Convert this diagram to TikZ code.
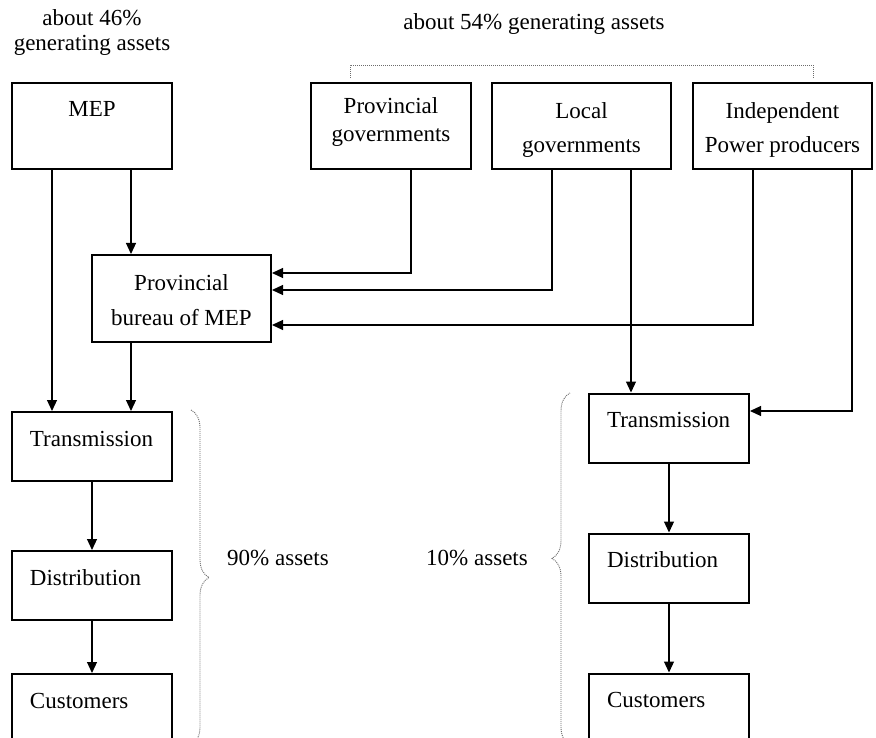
\documentclass[tikz,border=0pt]{standalone}
\usepackage{fontspec}
\setmainfont{Liberation Serif}
\usetikzlibrary{arrows.meta,positioning,decorations.pathreplacing}

\begin{document}
\begin{tikzpicture}[->,>={Triangle[length=11pt,width=10pt]},x=1pt,y=1pt,
  font=\fontsize{23}{28}\selectfont,
  box/.style={draw,line width=2pt,inner sep=0pt,minimum width=160pt,align=center},
  stage/.style={box,text width=124pt,inner xsep=18pt,align=left,text height=34pt,text depth=35pt},
  link/.style={line width=1.2pt},
  bracket/.style={-,gray!85!black,dash pattern=on 1pt off 1pt,line width=0.9pt}]
    \useasboundingbox (0,0) rectangle (876,-738);
    % shares of generating assets
    \node[align=center](share46) at (92,-33) {about 46\%\\[-3pt]generating assets};
    \node(share54) at (534,-24) {about 54\% generating assets};
    % owners
    \node[box,text height=34pt,text depth=52pt](mep) at (92,-126) {MEP};
    \node[box,text height=59pt,text depth=27pt](provgov) at (391,-126) {Provincial\\governments};
    \node[box,minimum width=179pt,text height=70pt,text depth=16pt,right=19pt of provgov](localgov) {Local\\[6pt]governments};
    \node[box,minimum width=179pt,text height=70pt,text depth=16pt,right=20pt of localgov](ipp) {Independent\\[6pt]Power producers};
    \node[box,minimum width=179pt,text height=70pt,text depth=17pt](bureau) at (181.5,-298.5) {Provincial\\[7pt]bureau of MEP};
    % grid, 90%
    \node[stage](trans1) at (92,-446.5) {Transmission};
    \node[stage,below=68pt of trans1](dist1) {Distribution};
    \node[stage,text depth=42pt,below=52pt of dist1](cust1) {Customers};
    % grid, 10%
    \node[stage](trans2) at (669,-428) {Transmission};
    \node[stage,below=69pt of trans2](dist2) {Distribution};
    \node[stage,text depth=42pt,below=69pt of dist2](cust2) {Customers};
    \node[anchor=west,inner sep=0pt](l90) at (227,-558) {90\% assets};
    \node[anchor=east,inner sep=0pt](l10) at (528,-558) {10\% assets};

    \draw[link] ([xshift=-40pt]mep.south) -- ([xshift=-40pt]trans1.north);
    \draw[link] ([xshift=39pt]mep.south) -- ([xshift=39pt]mep.south |- bureau.north);
    \draw[link] ([xshift=-50.5pt]bureau.south) -- ([xshift=-50.5pt]bureau.south |- trans1.north);
    \draw[link] ([xshift=20pt]provgov.south) |- ([yshift=25.5pt]bureau.east);
    \draw[link] ([xshift=-29.5pt]localgov.south) |- ([yshift=8.5pt]bureau.east);
    \draw[link] ([xshift=-29.5pt]ipp.south) |- ([yshift=-26.5pt]bureau.east);
    \draw[link] ([xshift=49.5pt]localgov.south) -- ([xshift=49.5pt]localgov.south |- trans2.north);
    \draw[link] ([xshift=69.5pt]ipp.south) |- ([yshift=17pt]trans2.east);
    \draw[link] (trans1) -- (dist1);
    \draw[link] (dist1) -- (cust1);
    \draw[link] (trans2) -- (dist2);
    \draw[link] (dist2) -- (cust2);

    \draw[bracket] ([xshift=-41pt,yshift=4pt]provgov.north) -- ++(0,13)
      -| ([xshift=30.5pt,yshift=4pt]ipp.north);
    \draw[bracket,decorate,decoration={brace,amplitude=18pt,aspect=0.5}]
      (191,-410) -- (191,-745);
    \draw[bracket,decorate,decoration={brace,amplitude=18pt,aspect=0.53}]
      (570,-745) -- (570,-393);

\end{tikzpicture}
\end{document}
